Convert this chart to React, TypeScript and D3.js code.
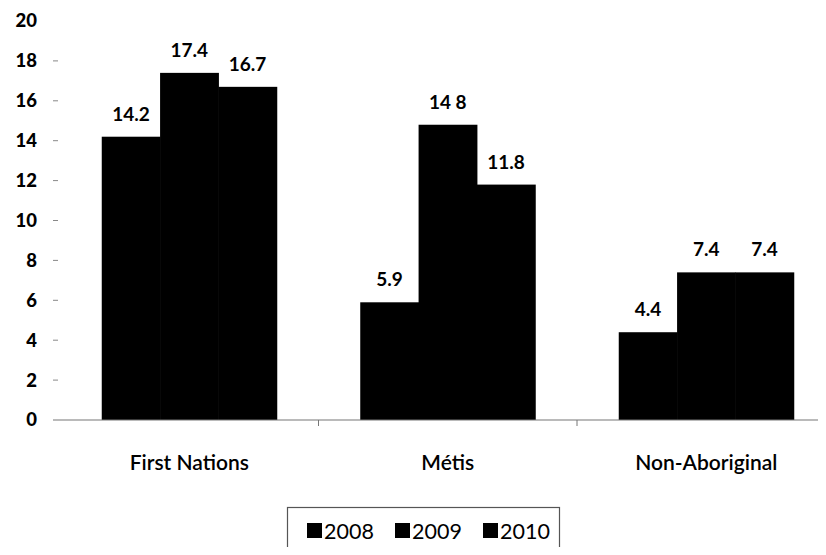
import React from "react";
import * as d3 from "d3";

const categories = ["First Nations", "Métis", "Non-Aboriginal"];
const years = ["2008", "2009", "2010"];
const values2008 = [14.2, 5.9, 4.4];
const values2009 = [17.4, 14.8, 7.4];
const values2010 = [16.7, 11.8, 7.4];
const valueLabels2009 = ["17.4", "14 8", "7.4"];
const yTicks = [0, 2, 4, 6, 8, 10, 12, 14, 16, 18, 20];

const W = 826;
const H = 555;
const FONT = "Lato, 'Open Sans', sans-serif";

export default function App() {
  const series = [values2008, values2009, values2010];
  const y = d3.scaleLinear().domain([0, 20]).range([420, 21]);
  const x0 = d3.scaleBand<string>().domain(categories).range([60, 835.5]).paddingInner(0).paddingOuter(0);
  const bw = x0.bandwidth();
  const x1 = d3.scaleBand<string>().domain(years).range([bw * 0.1615, bw * 0.8385]).padding(0);

  const legendX = d3.scaleBand<string>().domain(years).range([307, 482 + 89]);

  return (
    <div style={{ margin: -8, width: W, height: H, background: "#fff" }}>
      <svg width={W} height={H} style={{ display: "block", fontFamily: FONT }}>
        <rect width={W} height={H} fill="#fff" />
        {/* y ticks */}
        {yTicks.map((t) => (
          <g key={t}>
            <text x={37} y={y(t)} dy="0.35em" textAnchor="end" fontSize={18.5} fontWeight="900" fill="#000">
              {t}
            </text>
            {t > 0 && t !== 20 && <line x1={53} x2={58} y1={y(t)} y2={y(t)} stroke="#888" strokeWidth={1} />}
          </g>
        ))}
        {/* bars */}
        {categories.map((c, ci) => (
          <g key={c} transform={`translate(${x0(c)},0)`}>
            {years.map((yr, si) => {
              const v = series[si][ci];
              const bx = x1(yr)!;
              const label = si === 1 ? valueLabels2009[ci] : v.toFixed(1);
              return (
                <g key={yr}>
                  <rect x={bx} y={y(v)} width={x1.bandwidth() + 0.5} height={y(0) - y(v)} fill="#000" />
                  <text x={bx + x1.bandwidth() / 2} y={y(v) - 16} textAnchor="middle" fontSize={19} fontWeight="bold" fill="#000">
                    {label}
                  </text>
                </g>
              );
            })}
            <text x={bw / 2} y={463} dy="0.35em" textAnchor="middle" fontSize={21} fill="#000" fontWeight="600">
              {c}
            </text>
          </g>
        ))}
        {/* baseline */}
        <line x1={53} x2={W} y1={y(0)} y2={y(0)} stroke="#777" strokeWidth={1.2} />
        {categories.slice(1).map((c) => (
          <line key={c} x1={x0(c)!} x2={x0(c)!} y1={y(0)} y2={y(0) + 6} stroke="#777" strokeWidth={1} />
        ))}
        {/* legend */}
        <rect x={287.5} y={507.5} width={272} height={46} fill="#fff" stroke="#555" strokeWidth={1.2} />
        {years.map((yr) => {
          const lx = legendX(yr)!;
          return (
            <g key={yr}>
              <rect x={lx} y={523} width={15} height={15} fill="#000" />
              <text x={lx + 17} y={531} dy="0.35em" fontSize={21.5} fill="#000">
                {yr}
              </text>
            </g>
          );
        })}
      </svg>
    </div>
  );
}
